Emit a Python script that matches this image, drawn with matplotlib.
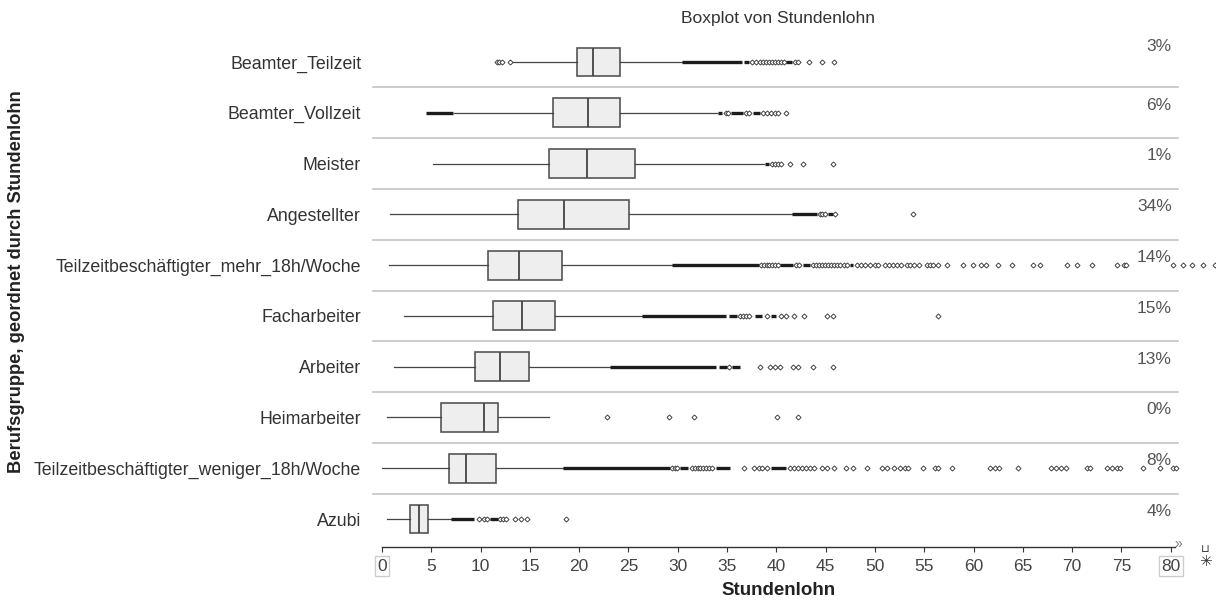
import matplotlib
matplotlib.use("Agg")
import matplotlib.pyplot as plt

plt.rcParams['font.family'] = ['Liberation Sans', 'DejaVu Sans']

# Occupational groups, ordered by hourly wage (top to bottom)
groups = [
    "Beamter_Teilzeit",
    "Beamter_Vollzeit",
    "Meister",
    "Angestellter",
    "Teilzeitbeschäftigter_mehr_18h/Woche",
    "Facharbeiter",
    "Arbeiter",
    "Heimarbeiter",
    "Teilzeitbeschäftigter_weniger_18h/Woche",
    "Azubi",
]
shares = [3, 6, 1, 34, 14, 15, 13, 0, 8, 4]

q1 = [19.8, 17.3, 16.9, 13.8, 10.75, 11.3, 9.4, 6.0, 6.8, 2.8]
median = [21.4, 20.9, 20.8, 18.5, 13.9, 14.2, 12.0, 10.3, 8.55, 3.75]
q3 = [24.1, 24.1, 25.7, 25.1, 18.3, 17.5, 14.9, 11.8, 11.6, 4.7]
whisker_low = [13.3, 7.3, 5.2, 0.8, 0.7, 2.2, 1.2, 0.5, 0.05, 0.5]
whisker_high = [30.4, 34.0, 38.7, 41.6, 29.4, 26.4, 23.1, 16.9, 18.4, 7.0]

# Individual outliers
outliers = [
    [11.7, 11.9, 12.2, 13.0, 37.5, 37.9, 38.3, 38.6, 38.9, 39.3, 39.6, 39.9,
     40.2, 40.5, 40.8, 41.9, 42.2, 43.3, 44.6, 45.8],
    [34.9, 35.1, 36.9, 37.2, 38.6, 39.0, 39.5, 39.9, 40.2, 41.0],
    [39.6, 39.9, 40.2, 40.5, 41.4, 42.7, 45.7],
    [44.4, 44.6, 44.9, 45.9, 53.9],
    [38.4, 38.7, 39.0, 39.3, 39.6, 39.9, 40.2, 42.0, 42.3, 43.7, 44.0, 44.3,
     44.6, 44.9, 45.2, 45.5, 45.8, 46.1, 46.5, 46.9, 47.2, 48.2, 48.6, 49.0,
     49.5, 50.0, 50.3, 51.0, 51.4, 51.8, 52.2, 52.6, 53.2, 53.6, 54.0, 54.5,
     55.3, 55.6, 55.9, 56.4, 57.3, 58.9, 59.9, 60.8, 61.3, 62.5, 63.9, 66.0,
     66.7, 69.5, 70.5, 72.0, 74.5, 75.3, 75.5, 80.2, 81.2, 82.2, 83.3, 84.5],
    [36.3, 36.6, 36.9, 37.2, 39.0, 40.5, 41.0, 41.8, 42.8, 45.1, 45.7, 56.4],
    [35.2, 38.3, 39.4, 39.9, 40.4, 41.7, 42.2, 43.7, 45.7],
    [22.8, 29.1, 31.6, 40.1, 42.2],
    [29.4, 29.7, 29.9, 31.4, 31.7, 32.0, 32.3, 32.6, 32.9, 33.2, 33.5, 36.7,
     37.7, 38.2, 38.5, 39.0, 41.4, 41.8, 42.2, 42.6, 43.0, 43.4, 43.8, 44.6,
     45.1, 45.8, 47.1, 47.8, 49.2, 50.7, 51.2, 51.9, 52.5, 53.0, 53.4, 54.9,
     56.1, 56.4, 57.8, 61.7, 62.2, 62.6, 64.5, 67.9, 68.4, 68.9, 69.4, 71.5,
     71.8, 73.5, 74.0, 74.5, 74.9, 77.2, 78.9, 80.2, 80.5],
    [9.8, 10.3, 10.7, 12.0, 12.3, 12.6, 13.5, 14.1, 14.7, 18.7],
]

# Ranges where outliers are so dense they merge into a solid band
dense_ranges = [
    [(30.4, 36.5), (36.7, 37.2), (41.0, 41.6)],
    [(4.5, 7.2), (34.1, 34.5), (35.4, 36.6), (37.6, 38.3)],
    [(38.8, 39.3)],
    [(41.6, 44.1), (45.2, 45.7)],
    [(29.4, 38.2), (40.4, 41.7), (42.7, 43.4), (47.5, 47.8)],
    [(26.4, 34.9), (35.2, 36.0), (37.8, 38.5), (39.5, 40.0)],
    [(23.1, 33.9), (34.2, 35.0), (35.5, 36.3)],
    [],
    [(18.4, 29.2), (30.2, 31.0), (33.9, 35.3), (39.5, 41.0)],
    [(7.0, 9.3), (11.0, 11.8)],
]

x_ticks = list(range(0, 81, 5))

fig = plt.figure(figsize=(12.16, 6.01), dpi=100)
ax = fig.add_axes([382 / 1216, 1 - 546.7 / 601, 793 / 1216, 510.1 / 601])

stats = [
    dict(label=g, q1=a, med=m, q3=b, whislo=lo, whishi=hi, fliers=f)
    for g, a, m, b, lo, hi, f in zip(groups, q1, median, q3,
                                     whisker_low, whisker_high, outliers)
]
positions = list(range(len(groups)))

parts = ax.bxp(
    stats, positions=positions, widths=0.57, orientation='horizontal',
    patch_artist=True, showcaps=False,
    boxprops=dict(facecolor='#eeeeee', edgecolor='#555555', linewidth=1.2),
    medianprops=dict(color='#444444', linewidth=1.3),
    whiskerprops=dict(color='#444444', linewidth=0.9),
    flierprops=dict(marker='D', markersize=2.6, markerfacecolor='white',
                    markeredgecolor='#2a2a2a', markeredgewidth=0.6,
                    linestyle='none'),
)
for fl in parts['fliers']:
    fl.set_clip_on(False)
    fl.set_zorder(4)

for pos, runs in zip(positions, dense_ranges):
    for lo, hi in runs:
        ax.hlines(pos, lo, hi, color='#1c1c1c', linewidth=2.4, zorder=3)

# Row separators
for k in range(len(groups) - 1):
    ax.plot([-0.9, 80.7], [k + 0.5, k + 0.5], color='#c4c4c4',
            linewidth=1.2, clip_on=False, zorder=1)

# Group share labels on the right
for pos, s in zip(positions, shares):
    off = 0.3 if pos == 0 else 0.15
    ax.text(80.1, pos - off, f"{s}%", ha='right', va='center',
            fontsize=12.5, color='#555555')

ax.set_xlim(0, 80.43)
ax.set_ylim(9.545, -0.5)

ax.set_yticks(positions, labels=groups)
ax.set_xticks(x_ticks, labels=[str(t) for t in x_ticks])
ax.tick_params(axis='y', length=0, pad=15, labelsize=12.8, labelcolor='#333333')
ax.tick_params(axis='x', direction='out', length=3.5, width=0.8,
               color='#333333', labelsize=12.5, labelcolor='#444444', pad=5)

xt = ax.get_xticklabels()
for lab in (xt[0], xt[-1]):
    lab.set_bbox(dict(boxstyle='square,pad=0.15', facecolor='none',
                      edgecolor='#cccccc', linewidth=1))

for side in ('top', 'right', 'left'):
    ax.spines[side].set_visible(False)
ax.spines['bottom'].set_color('#333333')
ax.spines['bottom'].set_linewidth(1.0)

ax.set_xlabel('Stundenlohn', fontsize=13.5, fontweight='bold', color='#222222')
ax.xaxis.set_label_coords(0.5, -0.085)
ax.xaxis.label.set_va('center')

ax.set_ylabel('Berufsgruppe, geordnet durch Stundenlohn', fontsize=13.2,
              fontweight='bold', color='#222222')
ax.yaxis.set_label_coords(-0.4615, 0.519)
ax.yaxis.label.set_va('center')

fig.text(778 / 1216, 1 - 18 / 601, 'Boxplot von Stundenlohn', ha='center',
         va='center', fontsize=12.5, color='#333333')

fig.text(1178 / 1216, 1 - 544 / 601, '»', ha='center', va='center',
         fontsize=10, color='#777777')
fig.text(1205 / 1216, 1 - 549 / 601, '⊔', ha='center', va='center',
         fontsize=8, color='#333333', family=['DejaVu Sans'])
fig.text(1205 / 1216, 1 - 561 / 601, '✳', ha='center', va='center',
         fontsize=11, color='#333333', family=['DejaVu Sans'])

fig.savefig('out.png', dpi=100)
